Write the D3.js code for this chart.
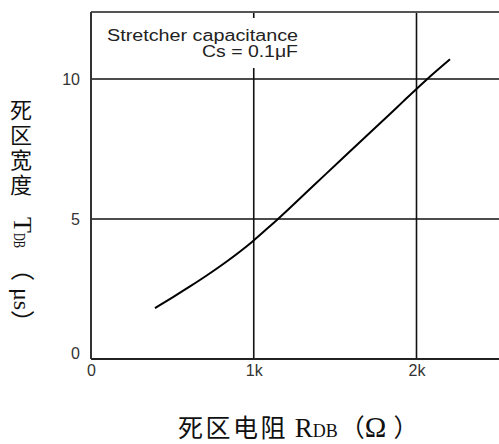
<!DOCTYPE html>
<html><head><meta charset="utf-8">
<script src="https://cdn.jsdelivr.net/npm/d3@7"></script>
<style>html,body{margin:0;padding:0;background:#fff;}</style>
</head><body>
<svg id="c" width="499" height="444"></svg>
<script>
// data (RDB in kΩ, TDB in µs)
const rdb = [0.393,0.504,0.608,0.713,0.836,0.916,0.989,1.118,1.149,1.358,1.530,1.684,1.819,1.917,2.003,2.065,2.206];
const tdb = [1.82,2.21,2.59,2.99,3.49,3.84,4.18,4.84,5.00,6.14,7.08,7.92,8.65,9.19,9.66,9.99,10.70];
const xTicks = [0,1,2];
const xTickLabels = ["0","1k","2k"];
const yTicks = [0,5,10];
const yTickLabels = ["0","5","10"];
const noteLines = ["Stretcher capacitance","Cs = 0.1μF"];

const svg = d3.select("#c");
const x = d3.scaleLinear().domain([0,2.5]).range([91, 91+2.5*162.75]);
const y = d3.scaleLinear().domain([0,12.39]).range([359,12]);
const xMax = 2.6;

// grid lines
svg.append("g").selectAll("line").data(xTicks.filter(d=>d>0)).join("line")
  .attr("x1",d=>x(d)).attr("x2",d=>x(d)).attr("y1",y(12.39)).attr("y2",y(0))
  .attr("stroke","#111").attr("stroke-width",1.6);
svg.append("g").selectAll("line").data(yTicks.filter(d=>d>0)).join("line")
  .attr("x1",x(0)).attr("x2",x(xMax)).attr("y1",d=>y(d)).attr("y2",d=>y(d))
  .attr("stroke","#111").attr("stroke-width",1.6);

// note box (white background hides the grid)
svg.append("rect").attr("x",100).attr("y",18).attr("width",200).attr("height",50).attr("fill","#fff");
svg.append("text").attr("x",107).attr("y",41).attr("font-family","Liberation Sans, Arial, sans-serif")
  .attr("font-size",16).attr("fill","#222").attr("textLength",191).attr("lengthAdjust","spacingAndGlyphs")
  .text(noteLines[0]);
svg.append("text").attr("x",202).attr("y",57).attr("font-family","Liberation Sans, Arial, sans-serif")
  .attr("font-size",16).attr("fill","#222").attr("textLength",96).attr("lengthAdjust","spacingAndGlyphs")
  .text(noteLines[1]);

// frame
svg.append("line").attr("x1",x(0)).attr("x2",x(xMax)).attr("y1",y(12.39)).attr("y2",y(12.39))
  .attr("stroke","#555").attr("stroke-width",2);
svg.append("line").attr("x1",x(0)).attr("x2",x(xMax)).attr("y1",y(0)).attr("y2",y(0))
  .attr("stroke","#222").attr("stroke-width",2);
svg.append("line").attr("x1",x(0)).attr("x2",x(0)).attr("y1",y(12.39)).attr("y2",y(0))
  .attr("stroke","#333").attr("stroke-width",2);

// curve
svg.append("path").datum(rdb.map((d,i)=>[d,tdb[i]]))
  .attr("d", d3.line().x(d=>x(d[0])).y(d=>y(d[1])).curve(d3.curveMonotoneX))
  .attr("fill","none").attr("stroke","#000").attr("stroke-width",2);

// axes labels
const xa = svg.append("g").attr("transform",`translate(0,${y(0)})`)
  .call(d3.axisBottom(x).tickValues(xTicks).tickFormat((d,i)=>xTickLabels[i]).tickSize(0).tickPadding(4));
xa.select(".domain").remove();
xa.selectAll("text").attr("font-family","Liberation Sans, Arial, sans-serif").attr("font-size",16).attr("fill","#333")
  .attr("dy","0.62em").attr("y",7);
const ya = svg.append("g").attr("transform",`translate(${x(0)},0)`)
  .call(d3.axisLeft(y).tickValues(yTicks).tickFormat((d,i)=>yTickLabels[i]).tickSize(0).tickPadding(11));
ya.select(".domain").remove();
ya.selectAll("text").attr("font-family","Liberation Sans, Arial, sans-serif").attr("font-size",16).attr("fill","#333")
  .attr("dy",d=>d===0?"-0.05em":"0.32em");

// x title
const xt = svg.append("text").attr("x",178).attr("y",437).attr("fill","#111");
xt.append("tspan").attr("font-family","Noto Sans CJK SC").attr("font-size",25).attr("letter-spacing",2.5).text("死区电阻");
xt.append("tspan").attr("font-family","Liberation Serif, Times New Roman, serif").attr("font-size",27).text(" R");
xt.append("tspan").attr("font-family","Liberation Serif, Times New Roman, serif").attr("font-size",18).text("DB");
xt.append("tspan").attr("font-family","Noto Sans CJK SC").attr("font-size",25).attr("dx",2).text("（");
xt.append("tspan").attr("font-family","Liberation Serif, Times New Roman, serif").attr("font-size",29).text("Ω");
xt.append("tspan").attr("font-family","Noto Sans CJK SC").attr("font-size",25).attr("dx",7).text("）");

// y title: vertical CJK text, then rotated part
const yCjkTitle = "死区宽度";
svg.append("text").attr("x",21).attr("y",99)
  .style("writing-mode","vertical-rl").attr("letter-spacing",3)
  .attr("font-family","Noto Sans CJK SC").attr("font-size",22).attr("fill","#111").text(yCjkTitle);
const yr = svg.append("g").attr("transform","translate(14,217) rotate(90)");
yr.append("text").attr("x",0).attr("y",0).attr("font-family","Liberation Serif, serif").attr("font-size",26).attr("fill","#111").text("T");
yr.append("text").attr("x",16).attr("y",0).attr("font-family","Liberation Serif, serif").attr("font-size",16)
  .attr("textLength",15).attr("lengthAdjust","spacingAndGlyphs").attr("fill","#111").text("DB");
yr.append("text").attr("x",40).attr("y",0).attr("font-family","Noto Sans CJK SC").attr("font-size",24).attr("fill","#111").text("（");
yr.append("text").attr("x",71).attr("y",0).attr("font-family","Liberation Serif, serif").attr("font-size",24).attr("fill","#111").text("μs");
yr.append("text").attr("x",93).attr("y",0).attr("font-family","Noto Sans CJK SC").attr("font-size",24).attr("fill","#111").text("）");
</script>
</body></html>
